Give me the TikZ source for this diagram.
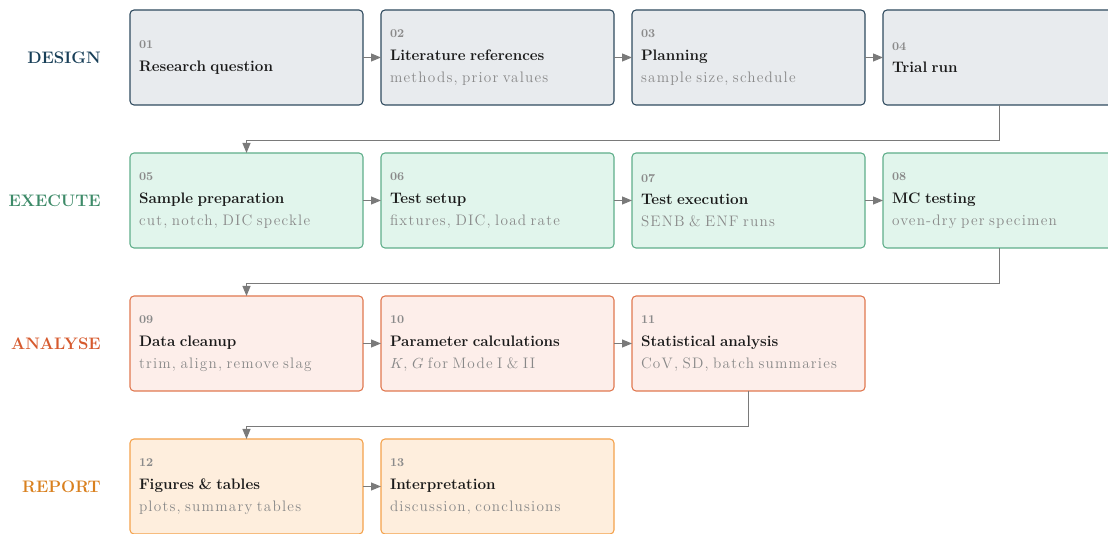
\documentclass[tikz,border=0pt]{standalone}
\usepackage{fontspec}
\newfontfamily\notefont[LetterSpace=8]{Latin Modern Roman}
\usetikzlibrary{positioning,arrows.meta}

\definecolor{designc}{HTML}{183F58}
\definecolor{designfill}{HTML}{E8EBEE}
\definecolor{designdraw}{HTML}{2F4B5F}
\definecolor{execc}{HTML}{3D8A68}
\definecolor{execfill}{HTML}{E1F5EC}
\definecolor{execdraw}{HTML}{5FAE8A}
\definecolor{analc}{HTML}{D65A2E}
\definecolor{analfill}{HTML}{FDEEEA}
\definecolor{analdraw}{HTML}{E07850}
\definecolor{repc}{HTML}{D9801E}
\definecolor{repfill}{HTML}{FEEEDD}
\definecolor{repdraw}{HTML}{F4A24C}
\definecolor{flowgray}{HTML}{7A7A7A}
\definecolor{numgray}{HTML}{8A8A8A}
\definecolor{subgray}{HTML}{888888}
\definecolor{titleink}{HTML}{1A1A1A}

% number, title and note lines inside a box
\newcommand{\stnum}[1]{{\fontsize{9}{10}\selectfont\bfseries\color{numgray}#1}\\[5pt]}
\newcommand{\sttitle}[1]{{\fontsize{11.4}{12}\selectfont\bfseries\color{titleink}#1}}
\newcommand{\stnote}[1]{\\[4.5pt]{\notefont\fontsize{11.4}{12}\selectfont\color{subgray}#1}}

\begin{document}
\begin{tikzpicture}[node distance=36pt and 13.5pt,
  stagebox/.style = {shape=rectangle, rounded corners=3pt, draw,
    line width=0.8pt, align=left, anchor=center, outer sep=0pt,
    minimum width=174.75pt, minimum height=71.25pt,
    text width=161.25pt, inner xsep=6.75pt, inner ysep=0pt},
  design/.style = {stagebox, draw=designdraw, fill=designfill},
  execute/.style = {stagebox, draw=execdraw, fill=execfill},
  analyse/.style = {stagebox, draw=analdraw, fill=analfill},
  report/.style = {stagebox, draw=repdraw, fill=repfill},
  phase/.style = {anchor=east, inner sep=0pt,
    font=\fontsize{12.5}{14}\selectfont\bfseries},
  flow/.style = {draw=flowgray, line width=0.75pt,
    -{Triangle[length=7.5pt,width=6pt]}}]
  \useasboundingbox (0,0) rectangle (831pt,-400.5pt);

  % design
  \node[design, anchor=north west] (b01) at (97.5pt,-7.5pt)
    {\stnum{01}\sttitle{Research question}};
  \node[design, right=of b01] (b02)
    {\stnum{02}\sttitle{Literature references}\stnote{methods, prior values}};
  \node[design, right=of b02] (b03)
    {\stnum{03}\sttitle{Planning}\stnote{sample size, schedule}};
  \node[design, right=of b03] (b04)
    {\stnum{04}\sttitle{Trial run}};

  % execute
  \node[execute, below=of b01] (b05)
    {\stnum{05}\sttitle{Sample preparation}\stnote{cut, notch, DIC speckle}};
  \node[execute, right=of b05] (b06)
    {\stnum{06}\sttitle{Test setup}\stnote{fixtures, DIC, load rate}};
  \node[execute, right=of b06] (b07)
    {\stnum{07}\sttitle{Test execution}\stnote{SENB \& ENF runs}};
  \node[execute, right=of b07] (b08)
    {\stnum{08}\sttitle{MC testing}\stnote{oven-dry per specimen}};

  % analyse
  \node[analyse, below=of b05] (b09)
    {\stnum{09}\sttitle{Data cleanup}\stnote{trim, align, remove slag}};
  \node[analyse, right=of b09] (b10)
    {\stnum{10}\sttitle{Parameter calculations}\stnote{$K$, $G$ for Mode I \& II}};
  \node[analyse, right=of b10] (b11)
    {\stnum{11}\sttitle{Statistical analysis}\stnote{CoV, SD, batch summaries}};

  % report
  \node[report, below=of b09] (b12)
    {\stnum{12}\sttitle{Figures \& tables}\stnote{plots, summary tables}};
  \node[report, right=of b12] (b13)
    {\stnum{13}\sttitle{Interpretation}\stnote{discussion, conclusions}};

  \node[phase, text=designc, left=21.75pt of b01] {DESIGN};
  \node[phase, text=execc, left=21.75pt of b05] {EXECUTE};
  \node[phase, text=analc, left=21.75pt of b09] {ANALYSE};
  \node[phase, text=repc, left=21.75pt of b12] {REPORT};

  \foreach \a/\b in {b01/b02, b02/b03, b03/b04, b05/b06, b06/b07, b07/b08,
                     b09/b10, b10/b11, b12/b13}
    \draw[flow] (\a) -- (\b);

  \draw[flow] (b04.south) -- ++(0,-27pt) -| (b05.north);
  \draw[flow] (b08.south) -- ++(0,-27pt) -| (b09.north);
  \draw[flow] (b11.south) -- ++(0,-27pt) -| (b12.north);
\end{tikzpicture}
\end{document}
